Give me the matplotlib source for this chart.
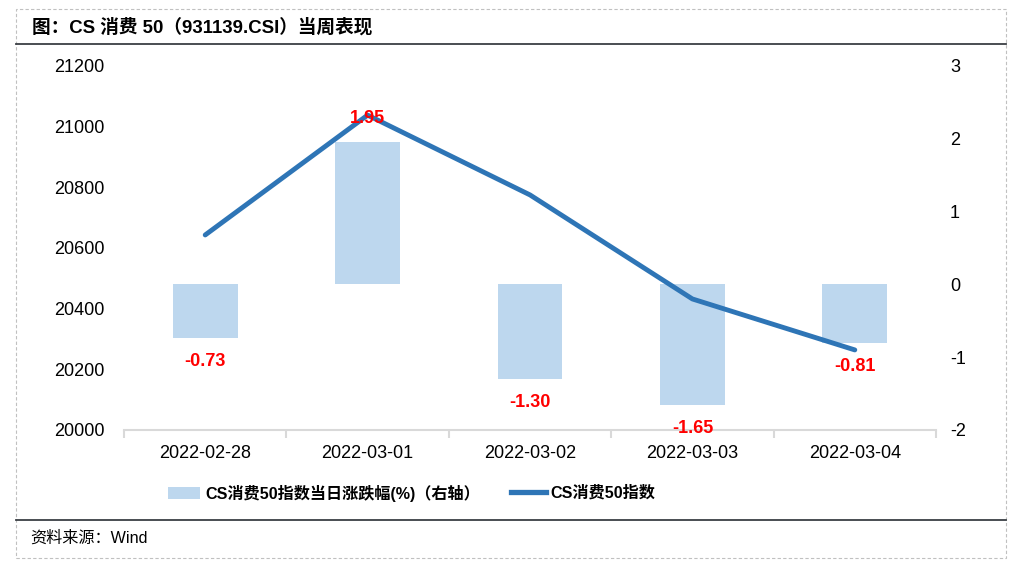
import matplotlib
matplotlib.use("Agg")
import matplotlib.pyplot as plt
from matplotlib.patches import Rectangle, Patch
from matplotlib.lines import Line2D

plt.rcParams['font.family'] = ['Liberation Sans', 'Noto Sans CJK SC', 'DejaVu Sans']

dates = ["2022-02-28", "2022-03-01", "2022-03-02", "2022-03-03", "2022-03-04"]
index_values = [20643, 21038, 20775, 20432, 20264]
pct_change = [-0.73, 1.95, -1.30, -1.65, -0.81]
left_ticks = [20000, 20200, 20400, 20600, 20800, 21000, 21200]
right_ticks = [-2, -1, 0, 1, 2, 3]

title = "图：CS 消费 50（931139.CSI）当周表现"
source = "资料来源：Wind"
bar_label = "CS消费50指数当日涨跌幅(%)（右轴）"
line_label = "CS消费50指数"

W, H = 1020, 568
fig = plt.figure(figsize=(W / 100, H / 100), dpi=100)

def fx(px):
    return px / W

def fy(py):
    return 1 - py / H

cjk = ['Liberation Sans', 'Noto Sans CJK SC']

# Frame
fig.patches.append(Rectangle((fx(16), fy(558)), fx(1006) - fx(16), fy(9) - fy(558),
                             transform=fig.transFigure, fill=False, edgecolor='#c0c0c0',
                             linestyle=(0, (3, 2)), linewidth=0.8))
fig.lines.append(Line2D([fx(16), fx(1006)], [fy(44), fy(44)], transform=fig.transFigure,
                        color='#3a3f44', linewidth=1.3))
fig.lines.append(Line2D([fx(16), fx(1006)], [fy(520), fy(520)], transform=fig.transFigure,
                        color='#3a3f44', linewidth=1.3))
fig.text(fx(32), fy(27), title, fontsize=13.4, fontweight='bold', va='center', ha='left',
         family=cjk)
fig.text(fx(30), fy(538), source, fontsize=11.6, va='center', ha='left', family=cjk)

ax = fig.add_axes([fx(124), fy(430), fx(936) - fx(124), fy(66) - fy(430)])
ax2 = ax.twinx()
ax.set_zorder(ax2.get_zorder() + 1)
ax.patch.set_visible(False)

x = list(range(len(dates)))
bar_color = '#bdd7ee'
line_color = '#2e75b6'

ax2.bar(x, pct_change, width=0.4, color=bar_color, zorder=2)
ax.plot(x, index_values, color=line_color, linewidth=3.5, solid_capstyle='round', zorder=3)

for xi, v in zip(x, pct_change):
    off = 17 if v > 0 else -17
    ax.annotate(f"{v:.2f}", xy=(xi, v), xycoords=ax2.transData,
                xytext=(0, off), textcoords='offset points', ha='center', va='center',
                color='#ff0000', fontsize=13, fontweight='bold', zorder=5)

ax.set_xlim(-0.5, len(dates) - 0.5)
ax.set_ylim(20000, 21200)
ax2.set_ylim(-2, 3)
ax.set_yticks(left_ticks)
ax.set_yticklabels([str(t) for t in left_ticks])
ax2.set_yticks(right_ticks)
ax2.set_yticklabels([str(t) for t in right_ticks])

ax.set_xticks(x)
ax.set_xticklabels(dates)
ax.set_xticks([i - 0.5 for i in range(len(dates) + 1)], minor=True)
ax.tick_params(axis='x', which='major', length=0, labelsize=13, pad=11)
ax.tick_params(axis='x', which='minor', length=6, color='#d9d9d9', width=1.5)
ax.tick_params(axis='y', length=0, labelsize=13, pad=14)
ax2.tick_params(axis='y', length=0, labelsize=13, pad=10)
ax2.tick_params(axis='x', length=0)

for a in (ax, ax2):
    for s in ('top', 'left', 'right'):
        a.spines[s].set_visible(False)
ax2.spines['bottom'].set_visible(False)
ax.spines['bottom'].set_color('#d9d9d9')
ax.spines['bottom'].set_linewidth(1.5)

leg_prop = {'size': 11.6, 'weight': 'bold', 'family': cjk}
fig.legend([Patch(facecolor=bar_color, edgecolor='none')], [bar_label],
           loc='center left', bbox_to_anchor=(fx(168), fy(493)), frameon=False,
           prop=leg_prop, handlelength=2.0, handleheight=0.8, handletextpad=0.3,
           borderpad=0, borderaxespad=0)
fig.legend([Line2D([0], [0], color=line_color, linewidth=3.8)], [line_label],
           loc='center left', bbox_to_anchor=(fx(511), fy(493)), frameon=False,
           prop=leg_prop, handlelength=2.2, handletextpad=0.25,
           borderpad=0, borderaxespad=0)

fig.savefig("out.png", dpi=100)
